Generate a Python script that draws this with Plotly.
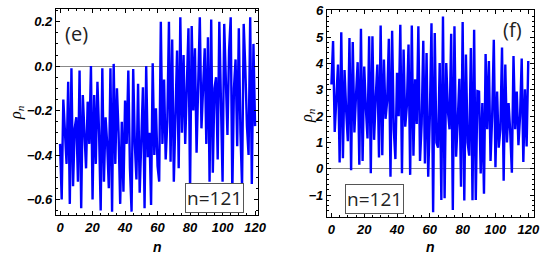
import plotly.graph_objects as go

n_vals = list(range(121))

rho_e = [
    -0.35, -0.60, -0.15, -0.33, -0.44, -0.07, -0.62, -0.01, -0.54, -0.28,
    -0.23, -0.52, -0.02, -0.64, -0.13, -0.30, -0.46, -0.16, -0.35, 0.00,
    -0.60, -0.13, -0.44, -0.07, -0.30, -0.65, -0.01, -0.52, -0.23, -0.35,
    -0.55, -0.01, -0.655, 0.01, -0.44, -0.10, -0.30, -0.62, -0.25, -0.565,
    -0.155, -0.35, -0.02, -0.46, -0.655, -0.013, -0.35, -0.51, -0.08, -0.57,
    -0.30, -0.095, -0.64, 0.00, -0.41, -0.30, -0.625, 0.013, -0.40, -0.19,
    -0.45, -0.52, 0.20, -0.35, -0.06, -0.42, -0.25, 0.20, -0.43, 0.12,
    -0.52, -0.14, 0.07, -0.46, 0.22, -0.30, 0.05, -0.35, -0.10, 0.17,
    -0.56, 0.18, -0.20, 0.08, -0.39, 0.00, 0.22, -0.28, -0.10, 0.08,
    -0.35, 0.13, -0.52, 0.21, -0.48, -0.10, -0.05, -0.42, 0.20, -0.20,
    -0.52, 0.19, -0.10, -0.31, 0.07, 0.22, -0.57, -0.10, 0.03, -0.36,
    0.17, -0.30, -0.54, 0.19, -0.01, -0.27, -0.40, 0.22, -0.53, 0.10,
    -0.27,
]

rho_f = [
    3.2, 4.85, 1.40, 2.6, 3.96, 0.24, 5.18, 0.40, 3.75, 2.2,
    1.05, 4.97, -0.05, 4.81, 1.38, 2.8, 4.05, 0.15, 5.32, 0.30,
    3.88, 2.3, 1.15, 5.03, -0.17, 5.03, 1.10, 2.7, 3.96, 0.43,
    5.44, 0.52, 4.15, 1.9, 2.6, 4.94, -0.30, 5.24, 1.5, 0.37,
    3.65, 2.0, 5.47, -0.17, 4.53, 1.6, 2.4, 4.72, -0.23, 5.44,
    0.5, 3.40, 1.7, 5.41, 0.3, 1.7, 4.86, 0.2, 4.40, -0.3,
    2.0, 5.53, -1.65, 5.16, 1.0, 0.8, 4.02, -1.18, 5.78, -1.12,
    4.02, 2.2, 1.5, 5.13, -1.56, 5.41, 0.46, 1.8, 3.42, -0.68,
    5.57, -1.2, 4.34, 1.0, 0.5, 4.59, -1.19, 5.28, -1.18, 2.95,
    2.93, -0.18, 2.5, -0.95, 4.36, 1.5, 4.09, 0.3, 2.0, 4.90,
    0.06, 2.93, 0.8, 1.5, 4.61, -0.45, 3.96, 1.0, 2.5, 1.4,
    -0.15, 4.28, 1.5, 2.93, 0.9, 2.0, 4.19, 0.26, 3.02, 0.85,
    4.09,
]

x_ticks = [0, 20, 40, 60, 80, 100, 120]
e_yticks = [0.2, 0.0, -0.2, -0.4, -0.6]
f_yticks = [-1, 0, 1, 2, 3, 4, 5, 6]
panel_labels = ["(e)", "(f)"]
box_label = "n=121"

W, H = 550, 258
def px(x): return x / W
def py(y): return 1 - y / H

blue = "#0000ff"
fig = go.Figure()
fig.add_trace(go.Scatter(x=n_vals, y=rho_e, mode="lines",
                         line=dict(color=blue, width=2.4), xaxis="x", yaxis="y"))
fig.add_trace(go.Scatter(x=n_vals, y=rho_f, mode="lines",
                         line=dict(color=blue, width=2.4), xaxis="x2", yaxis="y2"))

tickfont = dict(family="Liberation Sans", size=13, color="black",
                weight="bold", style="italic")
common = dict(showline=True, linecolor="black", linewidth=1.2, mirror="ticks",
              ticks="inside", ticklen=4, tickcolor="black", showgrid=False,
              tickfont=tickfont, automargin=False, ticklabeloverflow="allow")

fig.update_layout(
    width=W, height=H, margin=dict(l=0, r=0, t=0, b=0, autoexpand=False),
    paper_bgcolor="white", plot_bgcolor="white", showlegend=False,
    xaxis=dict(domain=[px(56), px(258)], range=[-2.5, 121.8], tickvals=x_ticks,
               zeroline=False, anchor="y",
               minor=dict(ticks="inside", ticklen=2, dtick=5, tickcolor="black"),
               **common),
    yaxis=dict(domain=[py(215), py(9)], range=[-0.67, 0.257], tickvals=e_yticks,
               tickformat=".1f", zeroline=True, zerolinecolor="#888888",
               zerolinewidth=1, anchor="x",
               minor=dict(ticks="inside", ticklen=2, dtick=0.05, tickcolor="black"),
               **common),
    xaxis2=dict(domain=[px(327), px(534)], range=[-2.7, 123.5], tickvals=x_ticks,
                zeroline=False, anchor="y2",
                minor=dict(ticks="inside", ticklen=2, dtick=5, tickcolor="black"),
                **common),
    yaxis2=dict(domain=[py(217), py(10)], range=[-1.83, 6.03], tickvals=f_yticks,
                zeroline=True, zerolinecolor="#888888", zerolinewidth=1,
                anchor="x2",
                minor=dict(ticks="inside", ticklen=2, dtick=0.2, tickcolor="black"),
                **common),
)

def note(x, y, text, font, **kw):
    return dict(x=px(x), y=py(y), xref="paper", yref="paper", text=text,
                showarrow=False, xanchor="center", yanchor="middle",
                font=font, **kw)

ann = []
ann.append(note(76, 33, panel_labels[0], dict(family="Open Sans", size=20, color="#222")))
ann.append(note(512, 30, panel_labels[1], dict(family="Open Sans", size=20, color="#222")))
for cx, cy in [(214, 198), (374, 198.5)]:
    ann.append(note(cx, cy, box_label, dict(family="Open Sans", size=19, color="#222"),
                    bordercolor="#555", borderwidth=1, borderpad=1, bgcolor="white"))
for cx, cy in [(16, 113), (307, 116)]:
    ann.append(note(cx, cy, "<i>ρ</i><sub><i>n</i></sub>",
                    dict(family="Liberation Serif", size=16, color="black"),
                    textangle=-90))
for cx in [157, 430]:
    ann.append(note(cx, 247, "n",
                    dict(family="Liberation Sans", size=14, color="black",
                         weight="bold", style="italic")))
fig.update_layout(annotations=ann)

fig.write_html("out.html", config={"displayModeBar": False},
               post_script="document.body.style.margin='0';")
